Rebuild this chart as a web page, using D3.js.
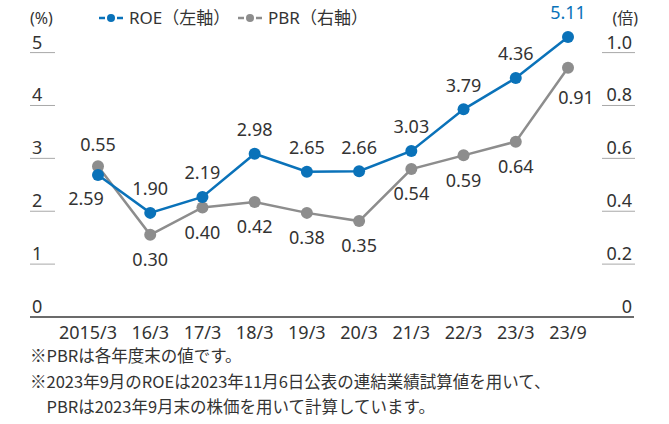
<!DOCTYPE html>
<html><head><meta charset="utf-8">
<script src="https://cdn.jsdelivr.net/npm/d3@7"></script>
<style>
html,body{margin:0;padding:0;background:#fff;}
svg{display:block;}
text{font-family:"Noto Sans","Noto Sans CJK JP",sans-serif;fill:#333;}
</style></head>
<body>
<script>
const categories = ["2015/3","16/3","17/3","18/3","19/3","20/3","21/3","22/3","23/3","23/9"];
const roe = [2.59,1.90,2.19,2.98,2.65,2.66,3.03,3.79,4.36,5.11];
const pbr = [0.55,0.30,0.40,0.42,0.38,0.35,0.54,0.59,0.64,0.91];
const leftTicks = [0,1,2,3,4,5];
const rightTicks = ["0","0.2","0.4","0.6","0.8","1.0"];
const roeLabelPos = ["below","above","above","above","above","above","above","above","above","above"];
const pbrLabelPos = ["above","below","below","below","below","below","below","below","below","below"];
const notes = ["※PBRは各年度末の値です。","※2023年9月のROEは2023年11月6日公表の連結業績試算値を用いて、","　PBRは2023年9月末の株価を用いて計算しています。"];

const W=669,H=424;
const BLUE="#0a72b9", GRAY="#8d8d8d";
const svg=d3.select("body").append("svg").attr("width",W).attr("height",H);

const x=d3.scalePoint().domain(categories).range([98,568]);
const yL=d3.scaleLinear().domain([0,5]).range([317,43]);
const yR=d3.scaleLinear().domain([0,1]).range([317,43]);
const yAxis=d3.scaleLinear().domain([0,5]).range([317,52.6]);

// axis tick marks + labels
leftTicks.forEach((t,i)=>{
  const yy=yAxis(t);
  if(t!==0){
    svg.append("line").attr("x1",30).attr("x2",55).attr("y1",yy).attr("y2",yy).attr("stroke","#a8a8a8").attr("stroke-width",1);
    svg.append("line").attr("x1",602).attr("x2",635).attr("y1",yy).attr("y2",yy).attr("stroke","#a8a8a8").attr("stroke-width",1);
  }
  svg.append("text").attr("x",32).attr("y",yy-4).attr("font-size",18).text(t);
  svg.append("text").attr("x",632).attr("y",yy-4).attr("font-size",18).attr("text-anchor","end").text(rightTicks[i]);
});
svg.append("line").attr("x1",30).attr("x2",634).attr("y1",yAxis(0)).attr("y2",yAxis(0)).attr("stroke","#6b6b6b").attr("stroke-width",2);

// x labels
svg.selectAll(".xl").data(categories).enter().append("text")
  .attr("x",(d,i)=>x(d)+(i===0?-10:0)).attr("y",333).attr("dy","0.35em")
  .attr("text-anchor","middle").attr("font-size",18).text(d=>d);

// unit labels
svg.append("text").attr("x",30).attr("y",24).attr("font-size",16).text("(%)");
svg.append("text").attr("x",638).attr("y",24).attr("font-size",16).attr("text-anchor","end").text("(倍)");

// legend
function legendIcon(x0,color){
  const g=svg.append("g");
  g.append("line").attr("x1",x0).attr("x2",x0+6).attr("y1",18).attr("y2",18).attr("stroke",color).attr("stroke-width",2.5);
  g.append("line").attr("x1",x0+18).attr("x2",x0+24).attr("y1",18).attr("y2",18).attr("stroke",color).attr("stroke-width",2.5);
  g.append("circle").attr("cx",x0+12).attr("cy",18).attr("r",4).attr("fill",color);
}
legendIcon(99,BLUE);
svg.append("text").attr("x",129).attr("y",24).attr("font-size",17).text("ROE（左軸）");
legendIcon(238,GRAY);
svg.append("text").attr("x",268).attr("y",24).attr("font-size",17).text("PBR（右軸）");

// lines
const lineL=d3.line().x((d,i)=>x(categories[i])).y(d=>yL(d));
const lineR=d3.line().x((d,i)=>x(categories[i])).y(d=>yR(d));
svg.append("path").datum(pbr).attr("d",lineR).attr("fill","none").attr("stroke",GRAY).attr("stroke-width",2.5);
svg.append("path").datum(roe).attr("d",lineL).attr("fill","none").attr("stroke",BLUE).attr("stroke-width",2.5);
svg.selectAll(".pp").data(pbr).enter().append("circle").attr("cx",(d,i)=>x(categories[i])).attr("cy",d=>yR(d)).attr("r",6).attr("fill",GRAY);
svg.selectAll(".rp").data(roe).enter().append("circle").attr("cx",(d,i)=>x(categories[i])).attr("cy",d=>yL(d)).attr("r",6).attr("fill",BLUE);

// data labels
svg.selectAll(".rl").data(roe).enter().append("text")
  .attr("x",(d,i)=>x(categories[i])+(i===0?-12:0))
  .attr("y",(d,i)=>yL(d)+(roeLabelPos[i]==="above"?-24:24)).attr("dy","0.35em")
  .attr("text-anchor","middle").attr("font-size",18)
  .style("fill",(d,i)=>i===roe.length-1?BLUE:"#333")
  .text(d=>d.toFixed(2));
svg.selectAll(".pl").data(pbr).enter().append("text")
  .attr("x",(d,i)=>x(categories[i])+(i===pbr.length-1?8:0))
  .attr("y",(d,i)=>yR(d)+(pbrLabelPos[i]==="above"?-22:(i===pbr.length-1?30:25))).attr("dy","0.35em")
  .attr("text-anchor","middle").attr("font-size",18)
  .text(d=>d.toFixed(2));

// notes
notes.forEach((n,i)=>{
  svg.append("text").attr("x",30).attr("y",362+i*25.5).attr("font-size",16.5)
    .style("font-family","'Noto Sans CJK JP',sans-serif").text(n);
});
</script>
</body></html>
